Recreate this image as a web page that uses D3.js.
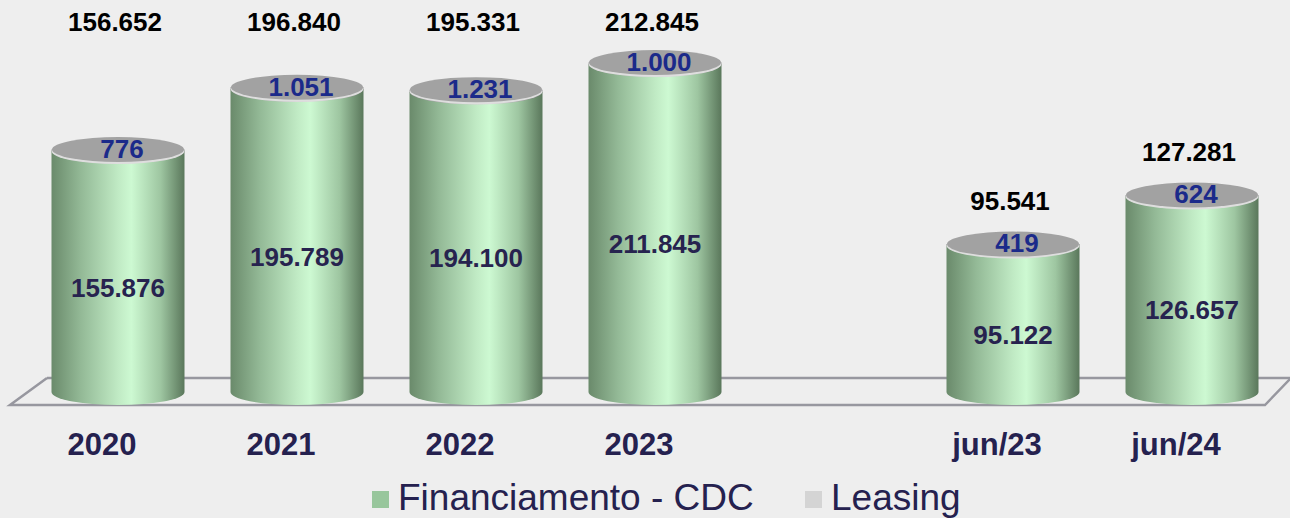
<!DOCTYPE html>
<html><head><meta charset="utf-8">
<script src="https://cdn.jsdelivr.net/npm/d3@7"></script>
<style>
html,body{margin:0;padding:0;background:#eeeeee;}
svg{display:block;font-family:"Liberation Sans",Arial,sans-serif;}
</style></head>
<body>
<svg id="chart" width="1290" height="518"></svg>
<script>
const categories = ["2020","2021","2022","2023","jun/23","jun/24"];
const financiamento = [155876,195789,194100,211845,95122,126657];
const leasing = [776,1051,1231,1000,419,624];
const totals = [156652,196840,195331,212845,95541,127281];
const groupOf = ["ano","ano","ano","ano","sem","sem"];
const seriesNames = ["Financiamento - CDC","Leasing"];

const fmt = v => d3.format(",")(v).replace(/,/g,".");
const svg = d3.select("#chart");

const slots = [...categories.slice(0,4), "__gap__", ...categories.slice(4)];
const x = d3.scaleBand().domain(slots).range([28.5, 1281.5]).padding(0);
const barW = x.bandwidth()*0.743;
const rx = barW/2, ry = 13;
const base = 392;
const y = d3.scaleLinear().domain([0, 240000]).range([base, base - 240*1.548]);

const defs = svg.append("defs");
const gG = defs.append("linearGradient").attr("id","green").attr("x1","0").attr("x2","1").attr("y1","0").attr("y2","0");
[[0,"#6a8a6b"],[0.22,"#93b996"],[0.5,"#c0eac4"],[0.6,"#cdf9d2"],[0.82,"#9ec6a1"],[1,"#5a775b"]].forEach(s=>gG.append("stop").attr("offset",s[0]).attr("stop-color",s[1]));
const gL = defs.append("linearGradient").attr("id","gray").attr("x1","0").attr("x2","1").attr("y1","0").attr("y2","0");
[[0,"#8a8a8a"],[0.6,"#dcdcdc"],[1,"#7a7a7a"]].forEach(s=>gL.append("stop").attr("offset",s[0]).attr("stop-color",s[1]));

// floor
svg.append("path")
  .attr("d", d3.line()([[47,378],[1300,378]]))
  .attr("stroke","#97979f").attr("stroke-width",2.5).attr("fill","none");
svg.append("path")
  .attr("d", d3.line()([[47,378],[10,405],[1265,405],[1292,377]]))
  .attr("stroke","#97979f").attr("stroke-width",2.5).attr("fill","none");

const g = svg.append("g");
categories.forEach((c,i)=>{
  const cx = x(c) + x.bandwidth()/2;
  const x0 = cx - rx, x1 = cx + rx;
  const yF = y(financiamento[i]);
  const yT = y(totals[i]);
  g.append("path")
    .attr("d", `M${x0},${yF} L${x0},${base} A${rx},${ry} 0 0 0 ${x1},${base} L${x1},${yF} Z`)
    .attr("fill","url(#green)");
  g.append("path")
    .attr("d", `M${x0},${yT} L${x0},${yF} A${rx},${ry} 0 0 0 ${x1},${yF} L${x1},${yT} Z`)
    .attr("fill","url(#gray)");
  g.append("ellipse").attr("cx",cx).attr("cy",yT+1.5).attr("rx",rx).attr("ry",ry).attr("fill","#dedede");
  g.append("ellipse").attr("cx",cx).attr("cy",yT).attr("rx",rx-0.5).attr("ry",ry-0.5).attr("fill","#a2a2a2");

  g.append("text").attr("x",cx+4).attr("y",yT-1).attr("dy","0.36em")
    .attr("text-anchor","middle").attr("font-size",26).attr("font-weight","bold")
    .attr("fill","#1b2a8a").text(fmt(leasing[i]));
  g.append("text").attr("x",cx).attr("y",(yF+base)/2+16).attr("dy","0.36em")
    .attr("text-anchor","middle").attr("font-size",26).attr("font-weight","bold")
    .attr("fill","#27234f").text(fmt(financiamento[i]));
  const ty = groupOf[i]==="ano" ? 22 : yT - 43;
  g.append("text").attr("x",cx-3).attr("y",ty).attr("dy","0.36em")
    .attr("text-anchor","middle").attr("font-size",26).attr("font-weight","bold")
    .attr("fill","#000").text(fmt(totals[i]));
  g.append("text").attr("x",cx-16).attr("y",444).attr("dy","0.36em")
    .attr("text-anchor","middle").attr("font-size",31).attr("font-weight","bold")
    .attr("fill","#25214f").text(c);
});

// legend
const leg = svg.append("g");
const legItems = [
  {name: seriesNames[0], color:"#98c69c", x:372},
  {name: seriesNames[1], color:"#d4d4d4", x:805}
];
legItems.forEach(d=>{
  leg.append("rect").attr("x",d.x).attr("y",491).attr("width",17).attr("height",17).attr("fill",d.color);
  leg.append("text").attr("x",d.x+26).attr("y",510).attr("font-size",37)
    .attr("fill","#25214f").text(d.name);
});
</script>
</body></html>
